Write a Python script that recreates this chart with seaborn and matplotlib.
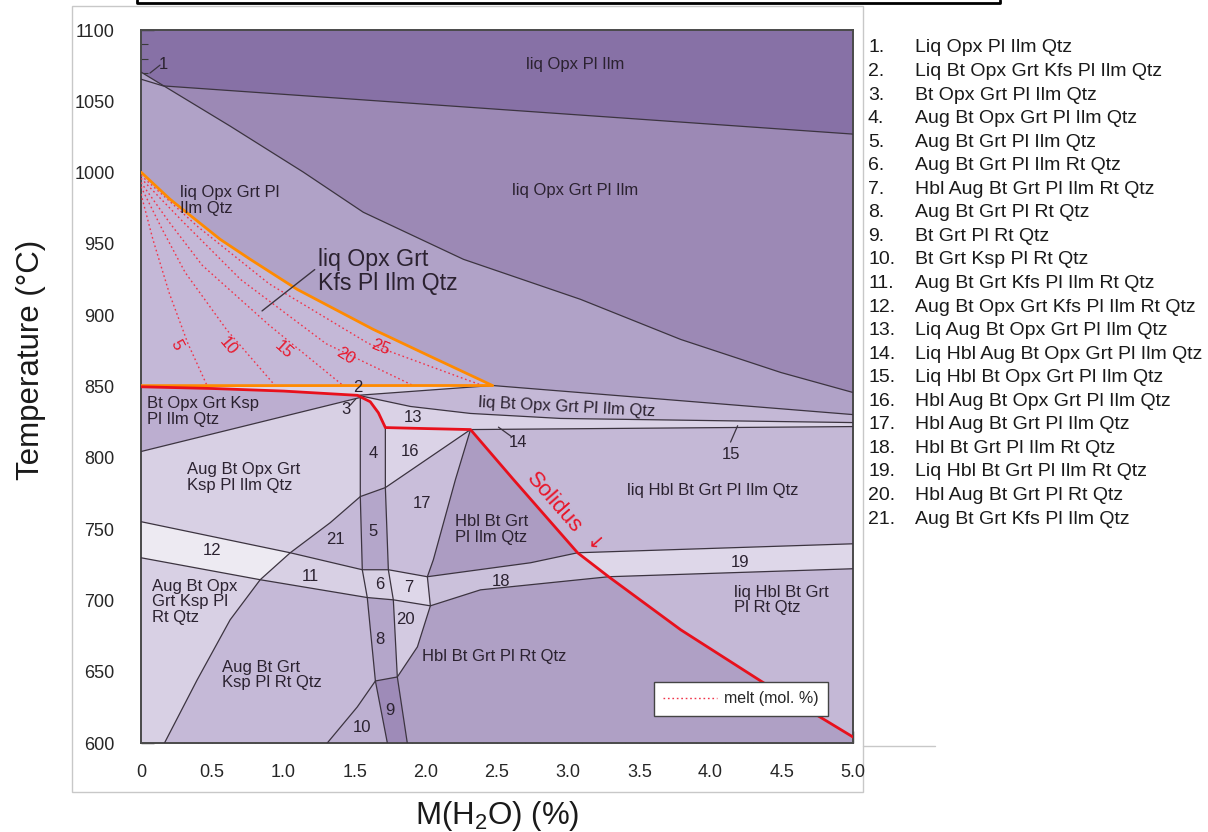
import numpy as np
import pandas as pd
import seaborn as sns
import matplotlib.pyplot as plt
from matplotlib.lines import Line2D
from matplotlib.patches import Rectangle

# ---------------- phase boundaries (M(H2O) wt%, T degC) ----------------
TOP_X = [0.0, 0.155, 5.0]
TOP_T = [1065.5, 1060.8, 1027.0]

QTZ_X = [0.0, 0.626, 1.139, 1.561, 2.264, 3.087, 3.790, 4.494, 5.0]
QTZ_T = [1070.5, 1032.6, 1000.4, 972.2, 939.2, 911.1, 883.0, 859.8, 845.8]

KFS_X = [0.0, 0.204, 0.556, 0.767, 1.097, 1.632, 2.032, 2.468]
KFS_T = [1000.3, 981.3, 953.2, 939.2, 918.1, 890.0, 871.1, 850.7]
KFS_FLAT_X = [0.0, 2.468]
KFS_FLAT_T = [850.6, 850.7]

SOL_X = [0.0, 0.5, 1.0, 1.52, 1.61, 1.667, 1.716, 2.0, 2.314, 2.616, 3.066, 3.284, 3.79, 4.374, 5.0]
SOL_T = [849.8, 848.6, 846.8, 843.8, 839.3, 831.6, 821.2, 820.5, 819.8, 784.7, 733.4, 716.6, 679.4, 642.1, 604.2]

L1_X = [1.52, 2.468]
L1_T = [843.8, 850.7]
L2_X = [2.468, 5.0]
L2_T = [850.7, 830.3]
L3_X = [1.54, 1.892, 2.314, 2.946, 3.93, 5.0]
L3_T = [843.5, 836.0, 831.1, 827.6, 826.2, 824.7]
L4_X = [2.314, 5.0]
L4_T = [819.8, 821.9]

A_X = [0.0, 1.54]
A_T = [804.4, 842.3]

SL_X = [1.54, 1.54, 1.554, 1.589, 1.646, 1.73]
SL_T = [843.5, 772.8, 721.5, 702.0, 643.5, 600.0]
SR_X = [1.716, 1.716, 1.737, 1.772, 1.80, 1.87]
SR_T = [821.2, 779.1, 721.5, 700.4, 646.3, 600.0]

C_X = [0.165, 0.394, 0.626, 0.837, 1.048, 1.329, 1.54, 1.716, 2.314]
C_T = [600.0, 644.2, 686.4, 714.5, 733.4, 754.5, 772.8, 779.1, 819.8]

D_X = [0.0, 1.048, 1.554, 1.737, 2.011, 2.736, 3.066, 5.0]
D_T = [755.2, 733.4, 721.5, 721.5, 716.6, 726.4, 733.4, 739.7]

E_X = [0.0, 0.837, 1.589, 1.772, 2.032, 2.384, 3.284, 5.0]
E_T = [729.9, 714.5, 702.0, 700.4, 696.2, 707.4, 716.6, 722.2]

F_X = [2.314, 2.208, 2.053, 2.011, 2.032, 1.941, 1.80]
F_T = [819.8, 784.7, 728.5, 716.6, 696.2, 667.4, 646.3]

G_X = [1.308, 1.519, 1.646, 1.80]
G_T = [600.0, 625.3, 643.5, 646.3]

# melt isopleths (mol. %)
MELT_LEVELS = ["5", "10", "15", "20", "25"]
MELT_X = [
    [0.0, 0.084, 0.2, 0.33, 0.464],
    [0.0, 0.15, 0.31, 0.6, 0.942],
    [0.0, 0.2, 0.43, 0.9, 1.42],
    [0.0, 0.3, 0.7, 1.3, 1.913],
    [0.0, 0.4, 0.9, 1.6, 2.40],
]
MELT_T = [
    [985, 953, 915, 880, 850.6],
    [990, 960, 930, 890, 850.6],
    [993, 965, 935, 893, 850.6],
    [996, 965, 925, 880, 850.6],
    [998, 962, 922, 880, 850.6],
]

ASSEMBLAGES = [
    "Liq Opx Pl Ilm Qtz", "Liq Bt Opx Grt Kfs Pl Ilm Qtz", "Bt Opx Grt Pl Ilm Qtz",
    "Aug Bt Opx Grt Pl Ilm Qtz", "Aug Bt Grt Pl Ilm Qtz", "Aug Bt Grt Pl Ilm Rt Qtz",
    "Hbl Aug Bt Grt Pl Ilm Rt Qtz", "Aug Bt Grt Pl Rt Qtz", "Bt Grt Pl Rt Qtz",
    "Bt Grt Ksp Pl Rt Qtz", "Aug Bt Grt Kfs Pl Ilm Rt Qtz", "Aug Bt Opx Grt Kfs Pl Ilm Rt Qtz",
    "Liq Aug Bt Opx Grt Pl Ilm Qtz", "Liq Hbl Aug Bt Opx Grt Pl Ilm Qtz", "Liq Hbl Bt Opx Grt Pl Ilm Qtz",
    "Hbl Aug Bt Opx Grt Pl Ilm Qtz", "Hbl Aug Bt Grt Pl Ilm Qtz", "Hbl Bt Grt Pl Ilm Rt Qtz",
    "Liq Hbl Bt Grt Pl Ilm Rt Qtz", "Hbl Aug Bt Grt Pl Rt Qtz", "Aug Bt Grt Kfs Pl Ilm Qtz",
]

X_TICKS = [0, 0.5, 1.0, 1.5, 2.0, 2.5, 3.0, 3.5, 4.0, 4.5, 5.0]
X_TICKLABELS = ["0", "0.5", "1.0", "1.5", "2.0", "2.5", "3.0", "3.5", "4.0", "4.5", "5.0"]
Y_TICKS = [600, 650, 700, 750, 800, 850, 900, 950, 1000, 1050, 1100]

# ---------------- style ----------------
sns.set_theme(style="white")
plt.rcParams["font.family"] = ["Liberation Sans", "DejaVu Sans"]
plt.rcParams["mathtext.default"] = "regular"

W, H = 1208, 832
fig = plt.figure(figsize=(W / 100, H / 100), dpi=100)
ax = fig.add_axes([141 / W, 89 / H, 712 / W, 713 / H])
XMIN, XMAX, TMIN, TMAX = 0.0, 5.0, 600.0, 1100.0


def pts(X, T, i=0, j=None, rev=False):
    p = list(zip(X[i:j], T[i:j]))
    return p[::-1] if rev else p


def fill(parts, color, z=1):
    P = [q for part in parts for q in part]
    ax.fill([q[0] for q in P], [q[1] for q in P], color=color, lw=0, zorder=z)


def line(X, T, color="#3c3440", lw=0.9, ls="-", z=3):
    sns.lineplot(x=X, y=T, sort=False, estimator=None, ax=ax, color=color,
                 lw=lw, linestyle=ls, legend=False, zorder=z)


BL = [(XMAX, TMIN), (XMIN, TMIN)]

ax.set_facecolor("#8771A6")
fill([pts(TOP_X, TOP_T), BL], "#9C89B5")
fill([pts(QTZ_X, QTZ_T), BL], "#B0A2C7")
fill([pts(KFS_X, KFS_T), [(KFS_FLAT_X[0], KFS_FLAT_T[0])]], "#C4B8D7")
fill([pts(KFS_FLAT_X, KFS_FLAT_T), pts(L2_X, L2_T, 1), BL], "#C4B8D6")
fill([pts(KFS_FLAT_X, KFS_FLAT_T), [(L1_X[0], L1_T[0])], pts(SOL_X, SOL_T, 0, 3, rev=True)], "#DDD6E8")
fill([pts(SOL_X, SOL_T, 0, 4), pts(L3_X, L3_T), BL], "#DAD2E6")
fill([pts(L4_X, L4_T), pts(SOL_X, SOL_T, 8, None, rev=True)], "#C4B8D6")
# left of the strip
fill([pts(SOL_X, SOL_T, 0, 4), [(SL_X[0], SL_T[0])], pts(A_X, A_T, rev=True)], "#BCAED0")
fill([pts(A_X, A_T), pts(SL_X, SL_T, 1), [(XMIN, TMIN)]], "#D8D0E4")
fill([pts(C_X, C_T, 0, 7), pts(SL_X, SL_T, 2)], "#C5B9D7")
fill([pts(D_X, D_T, 0, 3), pts(SL_X, SL_T, 3, 4), pts(E_X, E_T, 0, 2, rev=True)], "#D8D0E4")
fill([pts(D_X, D_T, 0, 2), pts(C_X, C_T, 3, 4), pts(E_X, E_T, 0, 1)], "#EDEAF2")
fill([pts(G_X, G_T, 0, 3), pts(SL_X, SL_T, 5)], "#BDB0D1")
# the narrow strip
fill([[(SL_X[0], SL_T[0])], pts(SOL_X, SOL_T, 4, 7), pts(SR_X, SR_T, 1), pts(SL_X, SL_T, 1, None, rev=True)], "#B4A6CA")
fill([[(SL_X[0], SL_T[0])], pts(SOL_X, SOL_T, 4, 7), pts(SR_X, SR_T, 1, 2), pts(SL_X, SL_T, 1, 2)], "#C6BAD7")
fill([pts(SL_X, SL_T, 2, 3), pts(SR_X, SR_T, 2, 4), pts(SL_X, SL_T, 3, 4)], "#D8D0E4")
fill([pts(SL_X, SL_T, 4, 5), pts(SR_X, SR_T, 4), pts(SL_X, SL_T, 5)], "#9E8BB8")
# right of the strip
fill([pts(SOL_X, SOL_T, 6), [(XMAX, TMIN)], pts(SR_X, SR_T, 1, None, rev=True)], "#AFA0C5")
fill([pts(SOL_X, SOL_T, 6, 9), pts(C_X, C_T, 7, 8)], "#DBD3E7")
fill([pts(C_X, C_T, 7), pts(F_X, F_T, 1, 4), pts(D_X, D_T, 3, 4)], "#C9BEDA")
fill([pts(D_X, D_T, 3, 5), pts(F_X, F_T, 4, 5), pts(SR_X, SR_T, 3, 4)], "#DED7E9")
fill([pts(SR_X, SR_T, 3, 4), pts(E_X, E_T, 4, 5), pts(F_X, F_T, 5)], "#D3CAE1")
fill([pts(F_X, F_T, 0, 4), pts(D_X, D_T, 5, 7), pts(SOL_X, SOL_T, 9, 10)], "#AC9CC2")
fill([pts(D_X, D_T, 4, 7), pts(E_X, E_T, 4, 7, rev=True)], "#CBC1DB")
fill([pts(D_X, D_T, 6), pts(E_X, E_T, 6, None, rev=True)], "#DED7E9")
fill([pts(E_X, E_T, 6), pts(SOL_X, SOL_T, 11, None, rev=True)], "#C4B8D6")

# boundaries
for X, T in [(TOP_X, TOP_T), (QTZ_X, QTZ_T), (L1_X, L1_T), (L2_X, L2_T), (L3_X, L3_T),
             (L4_X, L4_T), (A_X, A_T), (SL_X, SL_T), (SR_X, SR_T), (C_X, C_T),
             (D_X, D_T), (E_X, E_T), (F_X, F_T), (G_X, G_T)]:
    line(X, T)

for X, T in zip(MELT_X, MELT_T):
    line(X, T, color="#F0344A", lw=1.0, ls=(0, (1.2, 2.0)), z=4)

line(KFS_X, KFS_T, color="#FF8A00", lw=2.0, z=5)
line(KFS_FLAT_X, KFS_FLAT_T, color="#FF8A00", lw=2.0, z=5)
line(SOL_X, SOL_T, color="#E8101C", lw=2.0, z=6)

# leaders
LEAD = "#3c3440"
ax.plot([0.063, 0.134], [1069.8, 1075.4], color=LEAD, lw=0.9, zorder=6)
ax.plot([1.51, 1.47], [841.5, 837.0], color=LEAD, lw=0.9, zorder=6)
ax.plot([0.85, 1.22], [903.0, 932.0], color=LEAD, lw=1.0, zorder=6)
ax.plot([2.51, 2.60], [821.5, 815.0], color=LEAD, lw=0.9, zorder=6)
ax.plot([4.19, 4.14], [822.5, 811.0], color=LEAD, lw=0.9, zorder=6)

# region labels
TXT = "#2b2230"
fs = 12
def lab(x, t, s, size=fs, ha="center", rot=0, color=TXT):
    ax.text(x, t, s, fontsize=size, ha=ha, va="center", color=color, rotation=rot,
            zorder=8, linespacing=1.05)

lab(3.05, 1076, "liq Opx Pl Ilm")
lab(3.05, 987.6, "liq Opx Grt Pl Ilm")
lab(0.274, 980.6, "liq Opx Grt Pl\nIlm Qtz", ha="left")
lab(1.245, 930.8, "liq Opx Grt\nKfs Pl Ilm Qtz", size=16.7, ha="left")
lab(0.04, 832.4, "Bt Opx Grt Ksp\nPl Ilm Qtz", ha="left")
lab(0.32, 786, "Aug Bt Opx Grt\nKsp Pl Ilm Qtz", ha="left")
lab(0.077, 699, "Aug Bt Opx\nGrt Ksp Pl\nRt Qtz", ha="left")
lab(0.57, 647.8, "Aug Bt Grt\nKsp Pl Rt Qtz", ha="left")
lab(2.208, 749.6, "Hbl Bt Grt\nPl Ilm Qtz", ha="left")
lab(1.976, 660.4, "Hbl Bt Grt Pl Rt Qtz", ha="left")
lab(3.41, 777, "liq Hbl Bt Grt Pl Ilm Qtz", ha="left")
lab(4.163, 700.4, "liq Hbl Bt Grt\nPl Rt Qtz", ha="left")
lab(2.37, 835.3, "liq Bt Opx Grt Pl Ilm Qtz", ha="left", rot=-3)
for s, x, t in [("1", 0.155, 1076.1), ("2", 1.52, 849.5), ("3", 1.44, 833.8), ("4", 1.63, 803),
                ("5", 1.63, 748), ("6", 1.68, 711), ("7", 1.88, 708.8), ("8", 1.68, 672.3),
                ("9", 1.75, 622.5), ("10", 1.554, 611.2), ("11", 1.19, 717), ("12", 0.5, 734.8),
                ("13", 1.913, 828.2), ("14", 2.65, 810.7), ("15", 4.14, 802), ("16", 1.89, 804.4),
                ("17", 1.97, 767.8), ("18", 2.525, 713), ("19", 4.21, 726.4), ("20", 1.857, 686.4),
                ("21", 1.364, 742.6)]:
    lab(x, t, s)

RED = "#E8162A"
for s, x, t, r in zip(MELT_LEVELS, [0.253, 0.612, 0.999, 1.435, 1.68],
                      [878.8, 878.0, 876.0, 871.0, 877.4], [-62, -50, -42, -32, -22]):
    lab(x, t, s, color=RED, rot=r)
ax.text(2.90, 768, "Solidus", fontsize=16, color=RED, rotation=-49,
        ha="center", va="center", zorder=8, rotation_mode="anchor")
ax.text(3.18, 738.5, "\u2193", fontsize=14, color=RED, rotation=-49, family="DejaVu Sans",
        ha="center", va="center", zorder=8, rotation_mode="anchor")

# axes
ax.set_xlim(XMIN, XMAX)
ax.set_ylim(TMIN, TMAX)
ax.set_xticks(X_TICKS)
ax.set_xticklabels(X_TICKLABELS)
ax.set_yticks(Y_TICKS)
ax.set_xticks(np.arange(0, 5.01, 0.1), minor=True)
ax.set_yticks(np.arange(600, 1101, 10), minor=True)
ax.tick_params(axis="both", which="both", direction="in", color="#3a3a3a",
               left=True, bottom=True, top=False, right=False)
ax.tick_params(axis="y", which="major", length=9, width=1.0, pad=19, labelsize=13)
ax.tick_params(axis="y", which="minor", length=5, width=0.8)
ax.tick_params(axis="x", which="major", length=9, width=1.0, pad=15, labelsize=13)
ax.tick_params(axis="x", which="minor", length=5, width=0.8)
for sp in ax.spines.values():
    sp.set_color("#4a4a4a")
    sp.set_linewidth(1.4)
ax.set_xlabel("M(H$_2$O) (%)", fontsize=22.5, color="#1a1a1a")
ax.set_ylabel("Temperature (\u00b0C)", fontsize=22.5, color="#1a1a1a")
ax.xaxis.set_label_coords(0.5, -0.078)
ax.yaxis.set_label_coords(-0.133, 0.537)

leg = ax.legend(handles=[Line2D([], [], color="#F0344A", lw=1.0, ls=(0, (1.2, 2.0)))],
                labels=["melt (mol. %)"], loc="lower right", bbox_to_anchor=(0.965, 0.038),
                borderaxespad=0, frameon=True, fancybox=False, framealpha=1, edgecolor="#444444",
                handlelength=3.4, fontsize=11.5, borderpad=0.6, handletextpad=0.4)
leg.get_frame().set_linewidth(1.0)
leg.set_zorder(10)

# assemblage key
for i, s in enumerate(ASSEMBLAGES):
    y = 1 - (48 + i * 23.55) / H
    fig.text(868 / W, y, f"{i + 1}.", fontsize=14, va="center", ha="left", color="#1a1a1a")
    fig.text(915 / W, y, s, fontsize=14, va="center", ha="left", color="#1a1a1a")

# page frame
fig.add_artist(Rectangle((72 / W, 1 - 792 / H), (863 - 72) / W, (792 - 6) / H,
                         transform=fig.transFigure, fill=False, ec="#c8c8c8", lw=1.0, zorder=0))
fig.add_artist(Line2D([863 / W, 935 / W], [1 - 746 / H, 1 - 746 / H], transform=fig.transFigure,
                      color="#c8c8c8", lw=1.0))
fig.add_artist(Line2D([137 / W, 137 / W, 1000 / W, 1000 / W], [1.0, 1 - 3 / H, 1 - 3 / H, 1.0],
                      transform=fig.transFigure, color="black", lw=2.0))

fig.savefig("out.png", dpi=100, facecolor="white")
